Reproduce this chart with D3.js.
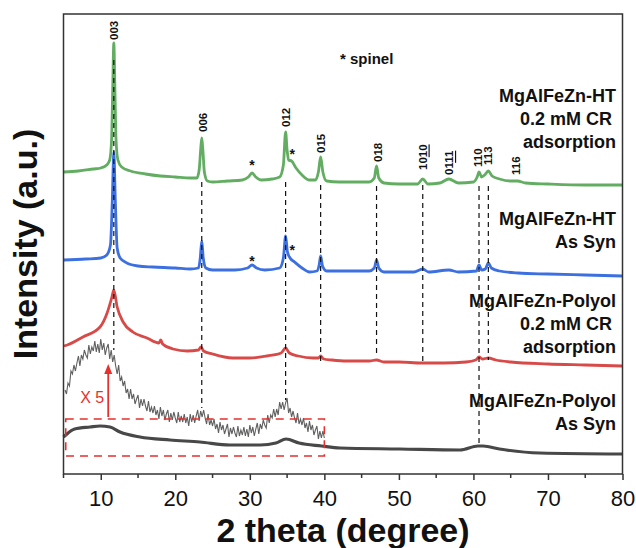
<!DOCTYPE html>
<html><head><meta charset="utf-8">
<script src="https://cdn.jsdelivr.net/npm/d3@7"></script>
<style>
body{margin:0;background:#fff;}
text{font-family:Arial,"Liberation Sans",sans-serif;}
</style></head>
<body><svg id="c" width="636" height="548"></svg>
<script>
// ---------------- DATA ----------------
const xTicks = [10, 20, 30, 40, 50, 60, 70, 80];
const xMinorTicks = [5, 15, 25, 35, 45, 55, 65, 75];

// [2theta, intensity (a.u., already offset)]
const htCR = [[5,302],[7,303],[9,305],[10,306],[10.8,309],[11.2,314],[11.45,334],[11.6,384],[11.75,431],[11.9,384],[12.05,334],[12.3,314],[12.8,307],[14,303],[16,300],[18,298],[20,297],[22,296],[22.9,296],[23.2,304],[23.4,324],[23.55,336],[23.7,324],[23.9,302],[24.3,293],[25,292],[27,293],[29,294],[29.8,297],[30.3,301],[30.8,297],[31.5,294],[33,295],[34,297],[34.5,309],[34.8,342],[35.0,324],[35.2,314],[35.6,313],[36.2,306],[37,299],[38,294],[38.8,294],[39.2,302],[39.5,317],[39.8,302],[40.3,293],[42,292],[44,292],[46,292],[46.7,296],[47.0,308],[47.3,296],[48,291],[50,290],[52.5,290],[53.2,295],[53.9,290],[55.5,291],[56.7,295],[58,291],[60,292],[60.5,297],[60.75,302],[61.1,297],[61.5,299],[62.0,303],[62.5,298],[63.5,295],[65,293],[65.9,293],[67,291],[70,290],[75,289],[80,289]];

const htAsSyn = [[5,214],[8,215],[10,216],[10.8,219],[11.3,229],[11.55,274],[11.75,322],[11.95,274],[12.2,226],[12.6,216],[13.5,211],[15,208],[17,207],[20,206],[22,205],[23.1,206],[23.35,216],[23.55,233],[23.75,216],[24.1,206],[25,204],[28,204],[29.7,206],[30.3,209],[30.9,206],[32,204],[34,206],[34.5,216],[34.8,238],[35.05,222],[35.4,216],[36,212],[37,206],[38,202],[39,203],[39.3,209],[39.5,218],[39.75,208],[40.3,203],[43,203],[46,203],[46.7,206],[47.0,214],[47.3,206],[48,202],[52,202],[53.2,205],[54,202],[56.7,204],[58,202],[60.4,203],[60.75,209],[61.1,204],[61.6,205],[62.0,211],[62.4,206],[63.5,203],[66,201],[70,200],[75,199],[80,198]];

const polyolCR = [[5,128],[5.5,129],[7.6,137],[9.9,147],[10.85,161],[11.5,177],[11.75,184],[12.2,167],[13,152],[14.3,142],[16.2,136],[17.8,131],[18.05,134],[18.3,130],[19.7,125],[21.6,123],[23.1,124],[23.45,127],[23.8,123],[25,120],[27.7,116],[30,116],[32.3,118],[34.2,121],[34.8,126],[35.3,121],[36.5,118],[38.5,116],[39.2,116],[39.5,118],[39.9,115],[41,114],[43,113],[46,113],[47,114],[48,112],[50,112],[53,111],[56,111],[59,112],[60.3,114],[60.75,117],[61.2,115],[62,116],[63,114],[65,112],[70,110],[75,109],[80,108]];

const polyolAsSyn = [[5,37],[5.3,39],[6.5,45],[8.56,47],[9.9,48],[11.24,47],[12.58,42],[15.26,37],[19.3,34],[23.3,32],[27.3,29],[31.4,29],[33.5,31],[34.86,35],[36.6,31],[39.6,28],[42.1,26],[50.1,25],[58.2,24],[60.6,28],[61.3,28],[63.5,25],[68.9,21],[80,20]];

// x5 magnified trace, sampled every 0.2 deg from 5.2 deg
const x5Start = 5.2, x5Step = 0.2;
const polyolX5 = [84,80,91,88,103, 100,109,103,111,118, 108,119,115,124,119, 116,129,120,127,123,
 133,122,130,121,135, 124,131,119,126,130, 115,124,112,119,108, 100,109,93,97,88,
 93,81,85,75,85, 75,80,70,75,79, 66,75,68,75,68, 63,73,62,67,61,
 68,59,64,55,67, 58,64,54,60,64, 52,61,54,62,56, 51,62,52,58,52,
 60,51,57,48,60, 52,59,51,58,64, 53,63,57,64,56, 50,60,49,54,48,
 55,45,50,41,52, 44,49,40,45,50, 37,46,40,47,41, 37,48,38,44,39,
 47,38,45,37,49, 41,47,38,45,51, 40,50,45,54,49, 46,59,51,59,56,
 65,57,65,59,72, 65,72,64,71,76, 61,66,57,63,56, 51,61,50,55,49,
 56,46,51,42,53, 44,49,39,44,48, 35,43,36,43,36];

const peakLines = [
  {hkl:"003", t:11.75, top:414, bottom:124, lx:11.75, ly:434},
  {hkl:"006", t:23.55, top:292, bottom:66, lx:23.75, ly:342},
  {hkl:"012", t:34.8, top:292, bottom:74, lx:34.9, ly:347},
  {hkl:"015", t:39.5, top:289, bottom:112, lx:39.55, ly:321},
  {hkl:"018", t:47.0, top:288, bottom:118, lx:47.13, ly:312},
  {hkl:"1010", t:53.2, top:289, bottom:112, lx:53.17, ly:304},
  {hkl:"0111", t:null, top:null, bottom:null, lx:56.72, ly:299},
  {hkl:"110", t:60.75, top:288, bottom:31, lx:60.62, ly:307},
  {hkl:"113", t:62.0, top:288, bottom:114, lx:61.9, ly:309},
  {hkl:"116", t:null, top:null, bottom:null, lx:65.7, ly:299}
];
const spinelMarks = [[30.3,309],[35.7,320],[30.3,213],[35.7,224]];
const zoomBox = {x0:5.3, x1:40, y0:18, y1:55};
const zoomArrow = {t:11.0, from:57, to:110};

const seriesNames = [
  ["MgAlFeZn-HT","0.2 mM CR","adsorption"],
  ["MgAlFeZn-HT","As Syn"],
  ["MgAlFeZn-Polyol","0.2 mM CR","adsorption"],
  ["MgAlFeZn-Polyol","As Syn"]
];
const seriesColors = ["#62ad62","#3c6fe0","#d84a48","#484848"];

// ---------------- CHART ----------------
const svg = d3.select("#c");
const L = 63.5, R = 622.5, T = 14, B = 474;
const x = d3.scaleLinear().domain([5,80]).range([L,R]);
const y = d3.scaleLinear().domain([0,460]).range([B,T]);

const line = d3.line().x(d=>x(d[0])).y(d=>y(d[1])).curve(d3.curveMonotoneX);

// x5 trace
const x5Data = polyolX5.map((v,i)=>[x5Start + i*x5Step, v]);
svg.append("path").attr("d", d3.line().x(d=>x(d[0])).y(d=>y(d[1]))(x5Data))
  .attr("fill","none").attr("stroke","#606060").attr("stroke-width",1.1);

const traces = [htCR, htAsSyn, polyolCR, polyolAsSyn];
[3,2,1,0].forEach(i=>{
  svg.append("path").attr("d", line(traces[i]))
    .attr("fill","none").attr("stroke",seriesColors[i])
    .attr("stroke-width", i===3 ? 3.2 : 2.8).attr("stroke-linejoin","round");
});

// zoom box + arrow
svg.append("rect").attr("x",x(zoomBox.x0)).attr("y",y(zoomBox.y1))
  .attr("width",x(zoomBox.x1)-x(zoomBox.x0)).attr("height",y(zoomBox.y0)-y(zoomBox.y1))
  .attr("fill","none").attr("stroke","#e5312d").attr("stroke-width",1.6)
  .attr("stroke-dasharray","8,6");
const ax = x(zoomArrow.t);
svg.append("line").attr("x1",ax).attr("x2",ax).attr("y1",y(zoomArrow.from)).attr("y2",y(zoomArrow.to)+8)
  .attr("stroke","#e5312d").attr("stroke-width",1.8);
svg.append("path").attr("d",`M${ax-4},${y(zoomArrow.to)+10}L${ax},${y(zoomArrow.to)}L${ax+4},${y(zoomArrow.to)+10}Z`)
  .attr("fill","#e5312d");
svg.append("text").attr("x",ax-4).attr("y",403).attr("text-anchor","end")
  .attr("font-size",16).attr("fill","#e5312d").text("X 5");

// dashed reference lines
svg.append("g").selectAll("line").data(peakLines.filter(d=>d.t!==null)).join("line")
  .attr("x1",d=>x(d.t)).attr("x2",d=>x(d.t)).attr("y1",d=>y(d.top)).attr("y2",d=>y(d.bottom))
  .attr("stroke","#111").attr("stroke-width",1.2).attr("stroke-dasharray","5,4");

// hkl labels
const lab = svg.append("g").selectAll("text").data(peakLines).join("text")
  .attr("transform",d=>`translate(${x(d.lx)},${y(d.ly)}) rotate(-90)`)
  .attr("dominant-baseline","central").attr("font-size",11.5).attr("font-weight","bold")
  .attr("fill","#111");
lab.each(function(d){
  const t = d3.select(this);
  if (d.hkl.length===4){
    t.append("tspan").text(d.hkl.slice(0,2));
    t.append("tspan").attr("text-decoration","underline").style("text-decoration","underline").text(d.hkl.slice(2));
  } else t.text(d.hkl);
});

// spinel markers
svg.append("g").selectAll("text").data(spinelMarks).join("text")
  .attr("x",d=>x(d[0])).attr("y",d=>y(d[1])+5).attr("text-anchor","middle")
  .attr("font-size",14).attr("font-weight","bold").attr("fill","#111").text("*");
svg.append("text").attr("x",340).attr("y",64).attr("font-size",15).attr("font-weight","bold")
  .attr("fill","#111").text("* spinel");

// series labels
const labelBase = [101.5, 225, 307, 407];
seriesNames.forEach((lines,i)=>{
  lines.forEach((s,j)=>{
    svg.append("text").attr("x", s==="0.2 mM CR" ? 612 : 616).attr("y",labelBase[i]+j*23)
      .attr("text-anchor","end").attr("font-size",18).attr("font-weight","bold")
      .attr("fill","#111").text(s);
  });
});

// frame
svg.append("rect").attr("x",L).attr("y",T).attr("width",R-L).attr("height",B-T)
  .attr("fill","none").attr("stroke","#333").attr("stroke-width",1.5);

// x axis
const gx = svg.append("g").attr("transform",`translate(0,${B})`)
  .call(d3.axisBottom(x).tickValues(xTicks).tickSize(6).tickSizeOuter(0).tickPadding(10));
gx.select(".domain").remove();
gx.selectAll("line").attr("stroke","#333").attr("stroke-width",1.5);
gx.selectAll("text").attr("font-size",22).attr("fill","#111").style("font-family","Arial, 'Liberation Sans', sans-serif");
svg.append("g").selectAll("line").data(xMinorTicks).join("line")
  .attr("x1",d=>x(d)).attr("x2",d=>x(d)).attr("y1",B).attr("y2",B+4)
  .attr("stroke","#333").attr("stroke-width",1.5);

// axis titles
svg.append("text").attr("x",(L+R)/2).attr("y",542).attr("text-anchor","middle")
  .attr("font-size",34).attr("font-weight","bold").attr("fill","#111").text("2 theta (degree)");
svg.append("text").attr("transform",`translate(37,${(T+B)/2}) rotate(-90)`).attr("text-anchor","middle")
  .attr("font-size",34).attr("font-weight","bold").attr("fill","#111").text("Intensity (a.u.)");
</script></body></html>
